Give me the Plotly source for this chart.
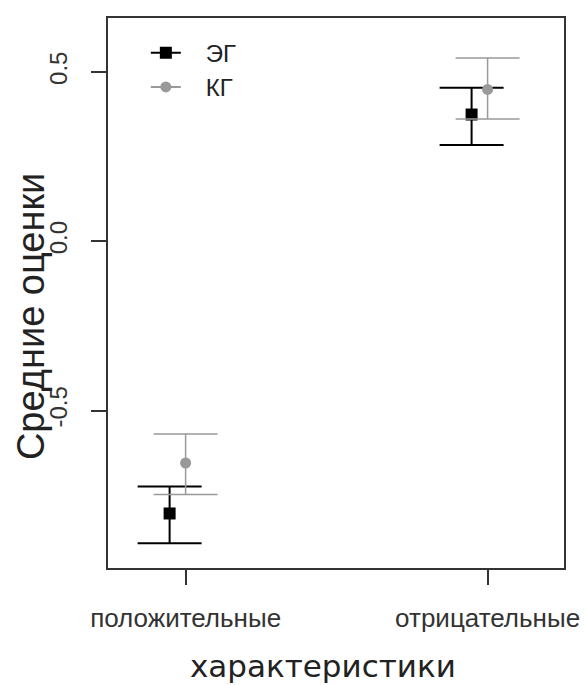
import plotly.graph_objects as go

categories = ["положительные", "отрицательные"]
groups = ["ЭГ", "КГ"]
eg_mean = [-0.804, 0.374]
eg_low = [-0.892, 0.284]
eg_high = [-0.724, 0.453]
kg_mean = [-0.655, 0.448]
kg_low = [-0.748, 0.361]
kg_high = [-0.569, 0.541]
y_ticks = [-0.5, 0.0, 0.5]
y_tick_labels = ["-0.5", "0.0", "0.5"]

xpos = [1, 2]
eg_x = [x - 0.053 for x in xpos]
kg_x = list(xpos)

BLACK = "#000000"
GRAY = "#999999"
FONT = "Liberation Sans, Arial, sans-serif"
PAD = "\u00a0\u00a0\u00a0"

fig = go.Figure()

fig.add_trace(go.Scatter(
    x=eg_x, y=eg_mean, mode="markers", showlegend=False,
    marker=dict(symbol="square", size=12, color=BLACK),
    error_y=dict(type="data", symmetric=False,
                 array=[h - m for h, m in zip(eg_high, eg_mean)],
                 arrayminus=[m - l for m, l in zip(eg_mean, eg_low)],
                 color=BLACK, thickness=2, width=32),
))
fig.add_trace(go.Scatter(
    x=kg_x, y=kg_mean, mode="markers", showlegend=False,
    marker=dict(symbol="circle", size=11, color=GRAY),
    error_y=dict(type="data", symmetric=False,
                 array=[h - m for h, m in zip(kg_high, kg_mean)],
                 arrayminus=[m - l for m, l in zip(kg_mean, kg_low)],
                 color=GRAY, thickness=1.5, width=32),
))
# legend entries
fig.add_trace(go.Scatter(x=[None], y=[None], mode="lines+markers", name=PAD + groups[0],
                         line=dict(color=BLACK, width=2),
                         marker=dict(symbol="square", size=12, color=BLACK)))
fig.add_trace(go.Scatter(x=[None], y=[None], mode="lines+markers", name=PAD + groups[1],
                         line=dict(color=GRAY, width=2),
                         marker=dict(symbol="circle", size=11, color=GRAY)))

# page body has an 8px margin: figure drawn at (8, 8)
fig.update_layout(
    width=580, height=677,
    margin=dict(l=100, r=23, t=8, b=117),
    paper_bgcolor="white", plot_bgcolor="white",
    font=dict(family=FONT, color="#222222"),
    showlegend=True,
    legend=dict(x=0.083, y=0.977, xanchor="left", yanchor="top",
                bgcolor="rgba(0,0,0,0)", font=dict(size=24, color="#222222"),
                itemwidth=30, tracegroupgap=0),
    xaxis=dict(range=[0.743, 2.253], tickvals=xpos, ticktext=categories,
               showgrid=False, zeroline=False, showline=True, mirror=True,
               linecolor="#333333", linewidth=1.5,
               ticks="outside", ticklen=15, tickwidth=1.5, tickcolor="#333333",
               ticklabelstandoff=11,
               tickfont=dict(size=26, color="#333333")),
    yaxis=dict(range=[-0.965, 0.659], tickvals=y_ticks, ticktext=y_tick_labels,
               showgrid=False, zeroline=False, showline=True, mirror=True,
               linecolor="#333333", linewidth=1.5,
               ticks="outside", ticklen=15, tickwidth=1.5, tickcolor="#333333",
               ticklabelstandoff=15,
               tickangle=-90, tickfont=dict(size=24, color="#333333")),
    annotations=[
        dict(text="Средние оценки", xref="paper", yref="paper",
             x=-0.1685, y=0.4565, xanchor="center", yanchor="middle",
             textangle=-90, showarrow=False,
             font=dict(size=38, family=FONT, color="#222222")),
        dict(text="характеристики", xref="paper", yref="paper",
             x=0.4716, y=-0.1788, xanchor="center", yanchor="middle",
             showarrow=False,
             font=dict(size=31, family="DejaVu Sans, Verdana, sans-serif", color="#222222")),
    ],
)

fig.write_html("out.html")
